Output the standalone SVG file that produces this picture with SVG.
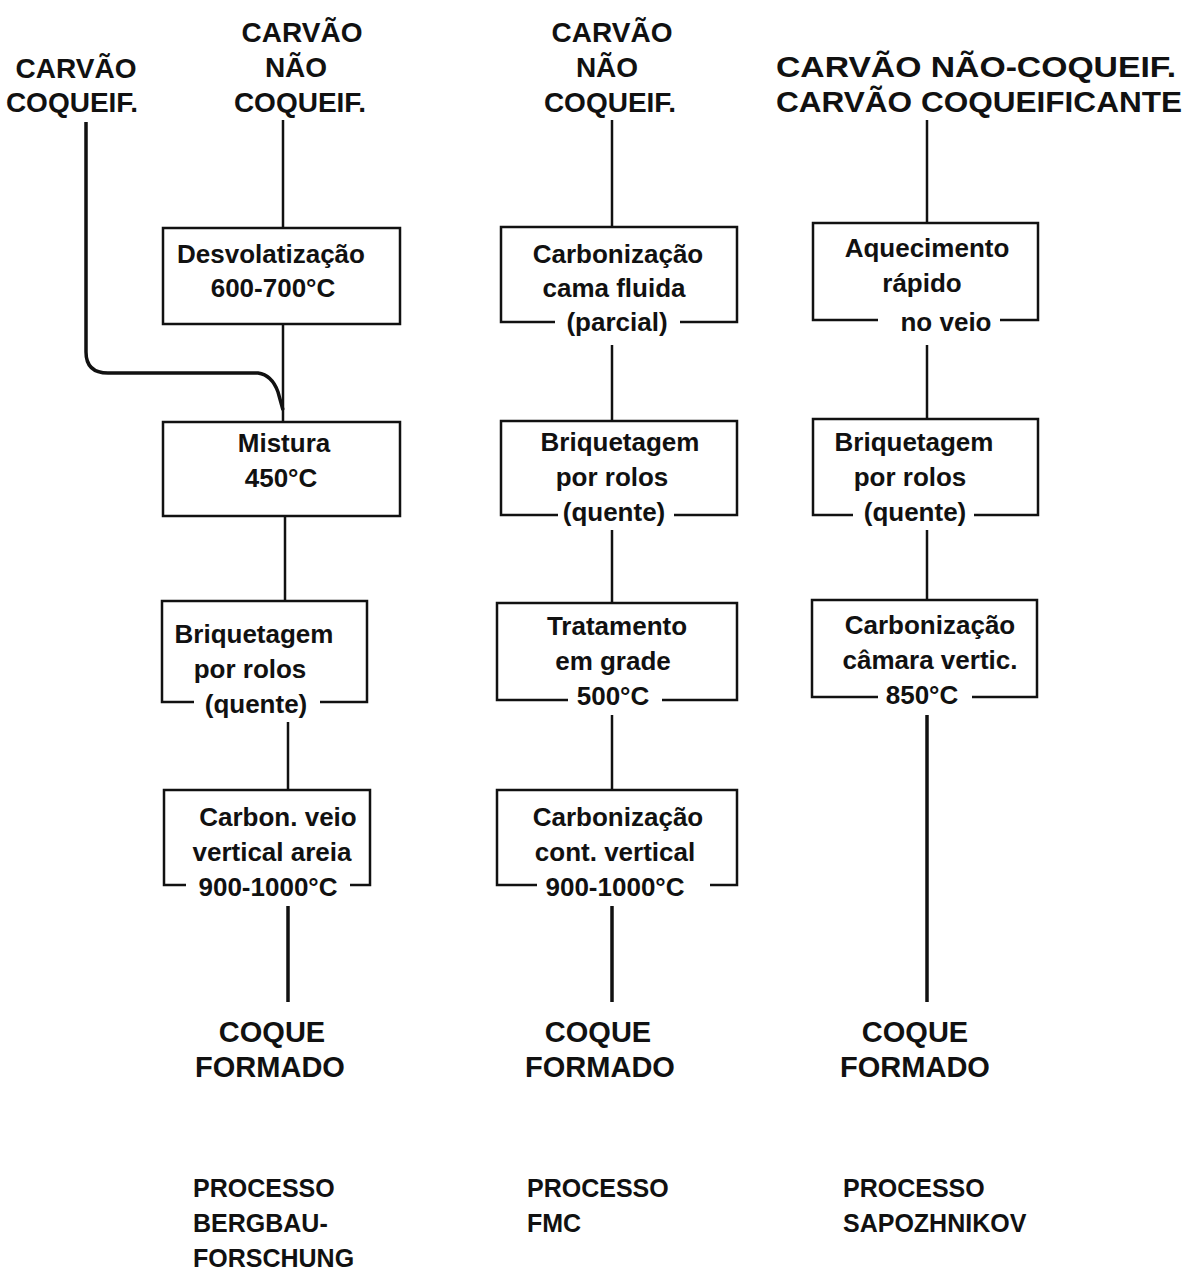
<svg xmlns="http://www.w3.org/2000/svg" width="1190" height="1286" viewBox="0 0 1190 1286">
<defs>
<style>
.bg{fill:#ffffff}
.hdr{font-family:"Liberation Sans","DejaVu Sans",sans-serif;font-weight:bold;font-size:28px;fill:#111;text-anchor:middle}
.hdrl{font-family:"Liberation Sans","DejaVu Sans",sans-serif;font-weight:bold;font-size:29px;fill:#111;text-anchor:start}
.t{font-family:"Liberation Sans","DejaVu Sans",sans-serif;font-weight:bold;font-size:26px;fill:#111;text-anchor:middle}
.out{font-family:"Liberation Sans","DejaVu Sans",sans-serif;font-weight:bold;font-size:29px;fill:#111;text-anchor:middle}
.proc{font-family:"Liberation Sans","DejaVu Sans",sans-serif;font-weight:bold;font-size:25px;fill:#111;text-anchor:start}
.box{fill:none;stroke:#111;stroke-width:2.5}
.ln{fill:none;stroke:#111;stroke-width:2.5}
.lnb{fill:none;stroke:#111;stroke-width:3.5}
</style>
</defs>
<rect class="bg" x="0" y="0" width="1190" height="1286"/>

<g id="connectors">
<path class="lnb" d="M86,122 V352 Q86,373 108,373 H258 Q272,375 278,392 L283,410"/>
<path class="ln" d="M283,120 V228"/>
<path class="ln" d="M283,324 V422"/>
<path class="ln" d="M285,516 V600"/>
<path class="ln" d="M288,722 V790"/>
<path class="lnb" d="M288,906 V1002"/>
<path class="ln" d="M612,120 V227"/>
<path class="ln" d="M612,345 V421"/>
<path class="ln" d="M612,530 V603"/>
<path class="ln" d="M612,715 V790"/>
<path class="lnb" d="M612,906 V1002"/>
<path class="ln" d="M927,120 V223"/>
<path class="ln" d="M927,345 V419"/>
<path class="ln" d="M927,530 V600"/>
<path class="lnb" d="M927,715 V1002"/>
</g>

<g id="src-col1">
<text class="hdr" x="76" y="78">CARVÃO</text>
<text class="hdr" x="72" y="112">COQUEIF.</text>
</g>
<g id="src-col2">
<text class="hdr" x="302" y="42">CARVÃO</text>
<text class="hdr" x="296" y="77">NÃO</text>
<text class="hdr" x="300" y="112">COQUEIF.</text>
</g>
<g id="src-col3">
<text class="hdr" x="612" y="42">CARVÃO</text>
<text class="hdr" x="607" y="77">NÃO</text>
<text class="hdr" x="610" y="112">COQUEIF.</text>
</g>
<g id="src-col4">
<text class="hdrl" x="776" y="77" textLength="400" lengthAdjust="spacingAndGlyphs">CARVÃO NÃO-COQUEIF.</text>
<text class="hdrl" x="776" y="112" textLength="406" lengthAdjust="spacingAndGlyphs">CARVÃO COQUEIFICANTE</text>
</g>

<!-- Column 2: Bergbau-Forschung -->
<g id="n-desvol">
<rect class="box" x="163" y="228" width="237" height="96"/>
<text class="t" x="271" y="263">Desvolatização</text>
<text class="t" x="273" y="297">600-700°C</text>
</g>
<g id="n-mistura">
<rect class="box" x="163" y="422" width="237" height="94"/>
<text class="t" x="284" y="452">Mistura</text>
<text class="t" x="281" y="487">450°C</text>
</g>
<g id="n-briq1">
<path class="box" d="M194,702 H162 V601 H367 V702 H320"/>
<text class="t" x="254" y="643">Briquetagem</text>
<text class="t" x="250" y="678">por rolos</text>
<text class="t" x="256" y="713">(quente)</text>
</g>
<g id="n-carbon1">
<path class="box" d="M186,885 H164 V790 H370 V885 H350"/>
<text class="t" x="278" y="826">Carbon. veio</text>
<text class="t" x="272" y="861">vertical areia</text>
<text class="t" x="268" y="896">900-1000°C</text>
</g>
<g id="out-col2">
<text class="out" x="272" y="1042">COQUE</text>
<text class="out" x="270" y="1077">FORMADO</text>
</g>
<g id="proc-col2">
<text class="proc" x="193" y="1197">PROCESSO</text>
<text class="proc" x="193" y="1232">BERGBAU-</text>
<text class="proc" x="193" y="1267">FORSCHUNG</text>
</g>

<!-- Column 3: FMC -->
<g id="n-carbfluid">
<path class="box" d="M555,322 H501 V227 H737 V322 H680"/>
<text class="t" x="618" y="263">Carbonização</text>
<text class="t" x="614" y="297">cama fluida</text>
<text class="t" x="617" y="331">(parcial)</text>
</g>
<g id="n-briq2">
<path class="box" d="M558,515 H501 V421 H737 V515 H674"/>
<text class="t" x="620" y="451">Briquetagem</text>
<text class="t" x="612" y="486">por rolos</text>
<text class="t" x="614" y="521">(quente)</text>
</g>
<g id="n-tratam">
<path class="box" d="M568,700 H497 V603 H737 V700 H662"/>
<text class="t" x="617" y="635">Tratamento</text>
<text class="t" x="613" y="670">em grade</text>
<text class="t" x="613" y="705">500°C</text>
</g>
<g id="n-carbcont">
<path class="box" d="M537,885 H497 V790 H737 V885 H710"/>
<text class="t" x="618" y="826">Carbonização</text>
<text class="t" x="615" y="861">cont. vertical</text>
<text class="t" x="615" y="896">900-1000°C</text>
</g>
<g id="out-col3">
<text class="out" x="598" y="1042">COQUE</text>
<text class="out" x="600" y="1077">FORMADO</text>
</g>
<g id="proc-col3">
<text class="proc" x="527" y="1197">PROCESSO</text>
<text class="proc" x="527" y="1232">FMC</text>
</g>

<!-- Column 4: Sapozhnikov -->
<g id="n-aquec">
<path class="box" d="M878,320 H813 V223 H1038 V320 H1000"/>
<text class="t" x="927" y="257">Aquecimento</text>
<text class="t" x="922" y="292">rápido</text>
<text class="t" x="946" y="331">no veio</text>
</g>
<g id="n-briq3">
<path class="box" d="M853,515 H813 V419 H1038 V515 H974"/>
<text class="t" x="914" y="451">Briquetagem</text>
<text class="t" x="910" y="486">por rolos</text>
<text class="t" x="915" y="521">(quente)</text>
</g>
<g id="n-carbcam">
<path class="box" d="M878,697 H812 V600 H1037 V697 H972"/>
<text class="t" x="930" y="634">Carbonização</text>
<text class="t" x="930" y="669">câmara vertic.</text>
<text class="t" x="922" y="704">850°C</text>
</g>
<g id="out-col4">
<text class="out" x="915" y="1042">COQUE</text>
<text class="out" x="915" y="1077">FORMADO</text>
</g>
<g id="proc-col4">
<text class="proc" x="843" y="1197">PROCESSO</text>
<text class="proc" x="843" y="1232">SAPOZHNIKOV</text>
</g>
</svg>
